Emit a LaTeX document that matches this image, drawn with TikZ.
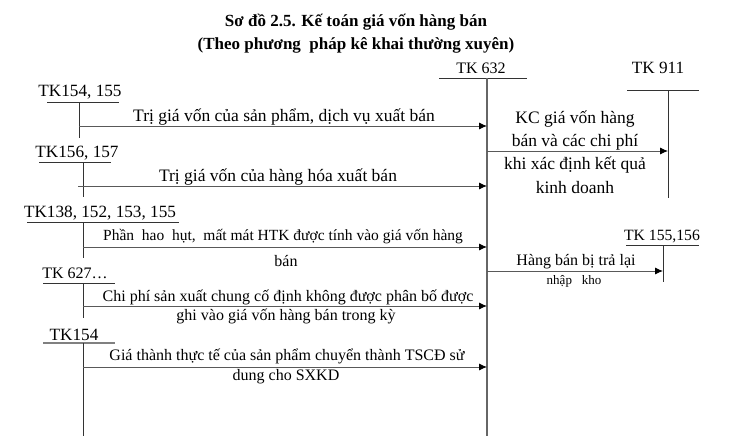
\documentclass[tikz,border=0pt]{standalone}
\usepackage{fontspec}
\setmainfont{Liberation Serif}
\usetikzlibrary{arrows.meta}
\begin{document}
\begin{tikzpicture}[x=1pt,y=-1pt,
  every node/.style={inner sep=0pt},
  ttl/.style={font=\fontsize{17}{19}\selectfont\bfseries},
  acc/.style={font=\fontsize{17.2}{19}\selectfont},
  lbl/.style={font=\fontsize{17.5}{19}\selectfont},
  mid/.style={font=\fontsize{16}{18}\selectfont},
  small/.style={font=\fontsize{13}{15}\selectfont},
  tline/.style={draw=black!80, line width=0.8pt},
  vline/.style={draw=black!60, line width=1.2pt},
  flow/.style={draw=black!65, line width=0.9pt, -{Latex[length=8pt,width=7pt,color=black]}}]
\useasboundingbox (0,0) rectangle (741,436);
% title
\node[ttl] (t1) at (356,22) {Sơ đồ 2.5. Kế toán giá vốn hàng bán};
\node[ttl] (t2) at (356,45) {(Theo phương\ \ pháp kê khai thường xuyên)};
% TK 632
\node[acc, font=\fontsize{16}{18}\selectfont] (k632) at (481,68) {TK 632};
\coordinate (h632a) at (439,78); \coordinate (h632b) at (527,78);
\coordinate (v632t) at (487,78); \coordinate (v632b) at (487,436);
\draw[tline] (h632a) -- (h632b);
\draw[vline] (v632t) -- (v632b);
% TK 911
\node[acc] (k911) at (658,68) {TK 911};
\coordinate (h911a) at (627,90); \coordinate (h911b) at (699,90);
\coordinate (v911t) at (668,90); \coordinate (v911b) at (668,198);
\draw[tline] (h911a) -- (h911b);
\draw[tline] (v911t) -- (v911b);
% TK154, 155
\node[acc] (k154) at (80,92) {TK154, 155};
\coordinate (h1a) at (47,102); \coordinate (h1b) at (119,102);
\coordinate (v1t) at (79,102); \coordinate (v1b) at (79,138);
\draw[tline] (h1a) -- (h1b);
\draw[tline] (v1t) -- (v1b);
\coordinate (a1s) at (79,126); \coordinate (a1e) at (487,126);
\draw[flow] (a1s) -- (a1e);
\node[lbl] (l1) at (284,117) {Trị giá vốn của sản phẩm, dịch vụ xuất bán};
% TK156, 157
\node[acc] (k156) at (77,153) {TK156, 157};
\coordinate (h2a) at (39,162); \coordinate (h2b) at (111,162);
\coordinate (v2t) at (83,162); \coordinate (v2b) at (83,197);
\draw[tline] (h2a) -- (h2b);
\draw[tline] (v2t) -- (v2b);
\coordinate (a2s) at (78,186); \coordinate (a2e) at (487,186);
\draw[flow] (a2s) -- (a2e);
\node[lbl] (l2) at (278,177) {Trị giá vốn của hàng hóa xuất bán};
% to TK 911
\coordinate (a9s) at (487,151); \coordinate (a9e) at (668,151);
\draw[flow] (a9s) -- (a9e);
\node[lbl] (r1) at (575,119) {KC giá vốn hàng};
\node[lbl] (r2) at (575,142) {bán và các chi phí};
\node[lbl] (r3) at (575,165) {khi xác định kết quả};
\node[lbl] (r4) at (575,188) {kinh doanh};
% TK138...
\node[acc] (k138) at (100,213) {TK138, 152, 153, 155};
\coordinate (h3a) at (27,222); \coordinate (h3b) at (179,222);
\coordinate (v3t) at (83,222); \coordinate (v3b) at (83,258);
\draw[tline] (h3a) -- (h3b);
\draw[tline] (v3t) -- (v3b);
\coordinate (a3s) at (83,247); \coordinate (a3e) at (487,247);
\draw[flow] (a3s) -- (a3e);
\node[mid, font=\fontsize{15.5}{17}\selectfont] (l3) at (283,237) {Phần\ \ hao\ \ hụt,\ \ mất mát HTK được tính vào giá\ vốn hàng};
\node[mid] (l3b) at (286,261) {bán};
% TK 155,156
\node[acc, font=\fontsize{15.7}{17}\selectfont] (k155) at (662,237) {TK 155,156};
\coordinate (h4a) at (626,245); \coordinate (h4b) at (699,245);
\coordinate (v4t) at (663,245); \coordinate (v4b) at (663,282);
\draw[tline] (h4a) -- (h4b);
\draw[tline] (v4t) -- (v4b);
\coordinate (a4s) at (487,271); \coordinate (a4e) at (663,271);
\draw[flow] (a4s) -- (a4e);
\node[mid] (l4) at (576,262) {Hàng bán bị trả lại};
\node[small] (l4b) at (574,281) {nhập\ \ \ kho};
% TK 627
\node[acc, font=\fontsize{16}{18}\selectfont] (k627) at (75,273) {TK 627…};
\coordinate (h5a) at (43,283); \coordinate (h5b) at (115,283);
\coordinate (v5t) at (83,283); \coordinate (v5b) at (83,318);
\draw[tline] (h5a) -- (h5b);
\draw[tline] (v5t) -- (v5b);
\coordinate (a5s) at (83,306); \coordinate (a5e) at (487,306);
\draw[flow] (a5s) -- (a5e);
\node[mid] (l5) at (288,297) {Chi phí sản xuất chung cố định không được phân bố được};
\node[mid] (l5b) at (286,316) {ghi vào giá vốn hàng bán trong kỳ};
% TK154
\node[acc] (k154b) at (74,335) {TK154};
\coordinate (h6a) at (43,343); \coordinate (h6b) at (115,343);
\coordinate (v6t) at (83,343); \coordinate (v6b) at (83,436);
\draw[draw=black!50, line width=1.2pt] (h6a) -- (h6b);
\draw[tline] (v6t) -- (v6b);
\coordinate (a6s) at (83,367); \coordinate (a6e) at (487,367);
\draw[flow] (a6s) -- (a6e);
\node[mid] (l6) at (287,356) {Giá thành thực tế của sản phẩm chuyển thành TSCĐ sử};
\node[mid] (l6b) at (286,377) {dung cho SXKD};
\end{tikzpicture}
\end{document}
